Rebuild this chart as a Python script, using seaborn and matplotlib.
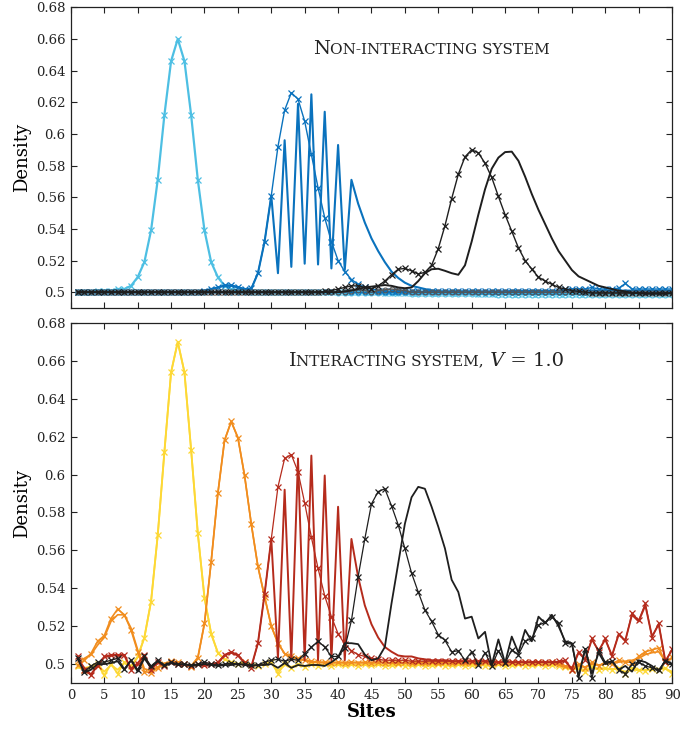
import matplotlib
matplotlib.use("Agg")
import matplotlib.pyplot as plt
import seaborn as sns

# --- Data ---
sites = list(range(1, 91))

# Non-interacting system
cyan_x = [
    0.500, 0.500, 0.500, 0.501, 0.501, 0.501, 0.502, 0.502, 0.504, 0.5095,
    0.519, 0.539, 0.571, 0.612, 0.646, 0.660, 0.646, 0.612, 0.571, 0.539,
    0.519, 0.5095, 0.504, 0.502, 0.501, 0.501, 0.500, 0.500, 0.500, 0.500,
    0.500, 0.500, 0.500, 0.500, 0.500, 0.500, 0.500, 0.500, 0.500, 0.500,
    0.500, 0.500, 0.500, 0.500, 0.500, 0.500, 0.4995, 0.4995, 0.4995, 0.4995,
    0.4995, 0.4995, 0.4995, 0.4995, 0.4995, 0.4995, 0.4995, 0.4995, 0.4995, 0.4995,
    0.499, 0.499, 0.499, 0.499, 0.499, 0.499, 0.499, 0.499, 0.499, 0.499,
    0.499, 0.499, 0.499, 0.499, 0.499, 0.499, 0.499, 0.499, 0.499, 0.499,
    0.499, 0.499, 0.499, 0.499, 0.499, 0.499, 0.499, 0.499, 0.499, 0.499]
cyan_o = [
    0.500, 0.500, 0.500, 0.500, 0.500, 0.500, 0.500, 0.500, 0.500, 0.500,
    0.500, 0.500, 0.500, 0.500, 0.500, 0.500, 0.500, 0.500, 0.500, 0.500,
    0.500, 0.500, 0.500, 0.500, 0.500, 0.500, 0.500, 0.500, 0.500, 0.500,
    0.500, 0.500, 0.500, 0.500, 0.500, 0.500, 0.500, 0.500, 0.500, 0.4995,
    0.4995, 0.4995, 0.4995, 0.4995, 0.4995, 0.4995, 0.4995, 0.4995, 0.4995, 0.4995,
    0.499, 0.499, 0.499, 0.499, 0.499, 0.499, 0.499, 0.499, 0.499, 0.499,
    0.499, 0.499, 0.499, 0.4985, 0.4985, 0.4985, 0.4985, 0.4985, 0.4985, 0.4985,
    0.4985, 0.4985, 0.4985, 0.4985, 0.4985, 0.4985, 0.4985, 0.4985, 0.4985, 0.4985,
    0.4985, 0.4985, 0.4985, 0.4985, 0.4985, 0.4985, 0.4985, 0.4985, 0.4985, 0.4985]
blue_x = [
    0.500, 0.500, 0.500, 0.500, 0.500, 0.500, 0.500, 0.500, 0.500, 0.500,
    0.500, 0.500, 0.500, 0.500, 0.500, 0.500, 0.500, 0.500, 0.500, 0.501,
    0.502, 0.503, 0.5045, 0.5045, 0.5035, 0.502, 0.5025, 0.512, 0.532, 0.561,
    0.592, 0.615, 0.626, 0.622, 0.608, 0.587, 0.566, 0.547, 0.532, 0.520,
    0.513, 0.508, 0.505, 0.503, 0.502, 0.501, 0.5005, 0.5005, 0.5005, 0.5005,
    0.5005, 0.5005, 0.5005, 0.5005, 0.5005, 0.5005, 0.5005, 0.5005, 0.5005, 0.5005,
    0.5005, 0.5005, 0.5005, 0.5005, 0.5005, 0.501, 0.501, 0.501, 0.501, 0.501,
    0.501, 0.501, 0.501, 0.502, 0.502, 0.502, 0.502, 0.503, 0.502, 0.502,
    0.502, 0.5025, 0.5055, 0.502, 0.502, 0.502, 0.502, 0.502, 0.502, 0.502]
blue_line = [
    0.500, 0.500, 0.500, 0.500, 0.500, 0.500, 0.500, 0.500, 0.500, 0.500,
    0.500, 0.500, 0.500, 0.500, 0.500, 0.500, 0.500, 0.500, 0.500, 0.501,
    0.502, 0.503, 0.504, 0.504, 0.503, 0.502, 0.502, 0.512, 0.532, 0.561,
    0.512, 0.596, 0.516, 0.619, 0.518, 0.625, 0.5175, 0.614, 0.515, 0.593,
    0.514, 0.571, 0.556, 0.544, 0.534, 0.526, 0.519, 0.513, 0.509, 0.506,
    0.504, 0.503, 0.502, 0.501, 0.5005, 0.5005, 0.5005, 0.5005, 0.5005, 0.5005,
    0.5005, 0.5005, 0.5005, 0.5005, 0.5005, 0.5005, 0.5005, 0.5005, 0.5005, 0.5005,
    0.5005, 0.5005, 0.5005, 0.501, 0.501, 0.501, 0.501, 0.501, 0.501, 0.501,
    0.501, 0.501, 0.501, 0.501, 0.501, 0.501, 0.501, 0.501, 0.501, 0.501]
blue_o = [
    0.500, 0.500, 0.500, 0.500, 0.500, 0.500, 0.500, 0.500, 0.500, 0.500,
    0.500, 0.500, 0.500, 0.500, 0.500, 0.500, 0.500, 0.500, 0.500, 0.500,
    0.500, 0.500, 0.500, 0.500, 0.500, 0.500, 0.500, 0.500, 0.500, 0.500,
    0.500, 0.500, 0.500, 0.500, 0.500, 0.500, 0.500, 0.500, 0.500, 0.500,
    0.500, 0.500, 0.500, 0.500, 0.500, 0.500, 0.500, 0.500, 0.500, 0.500,
    0.500, 0.500, 0.500, 0.500, 0.500, 0.500, 0.500, 0.500, 0.500, 0.500,
    0.500, 0.500, 0.500, 0.500, 0.500, 0.500, 0.500, 0.500, 0.500, 0.500,
    0.500, 0.500, 0.500, 0.500, 0.500, 0.500, 0.500, 0.500, 0.500, 0.500,
    0.500, 0.500, 0.500, 0.500, 0.500, 0.500, 0.500, 0.500, 0.500, 0.500]
black_x = [
    0.500, 0.500, 0.500, 0.500, 0.500, 0.500, 0.500, 0.500, 0.500, 0.500,
    0.500, 0.500, 0.500, 0.500, 0.500, 0.500, 0.500, 0.500, 0.500, 0.500,
    0.500, 0.500, 0.500, 0.500, 0.500, 0.500, 0.500, 0.500, 0.500, 0.500,
    0.500, 0.500, 0.500, 0.500, 0.500, 0.500, 0.500, 0.5005, 0.501, 0.502,
    0.503, 0.504, 0.504, 0.503, 0.502, 0.504, 0.507, 0.511, 0.5145, 0.515,
    0.5135, 0.5115, 0.5125, 0.517, 0.5275, 0.542, 0.559, 0.5745, 0.5855, 0.590,
    0.588, 0.5815, 0.5725, 0.5605, 0.549, 0.5385, 0.528, 0.520, 0.5145, 0.5095,
    0.507, 0.505, 0.503, 0.502, 0.501, 0.5005, 0.500, 0.4995, 0.4995, 0.4995,
    0.4995, 0.4995, 0.4995, 0.4995, 0.4995, 0.4995, 0.4995, 0.4995, 0.4995, 0.4995]
black_line = [
    0.500, 0.500, 0.500, 0.500, 0.500, 0.500, 0.500, 0.500, 0.500, 0.500,
    0.500, 0.500, 0.500, 0.500, 0.500, 0.500, 0.500, 0.500, 0.500, 0.500,
    0.500, 0.500, 0.500, 0.500, 0.500, 0.500, 0.500, 0.500, 0.500, 0.500,
    0.500, 0.500, 0.500, 0.500, 0.500, 0.500, 0.500, 0.500, 0.500, 0.500,
    0.5005, 0.501, 0.502, 0.503, 0.5035, 0.504, 0.5045, 0.504, 0.503, 0.5025,
    0.503, 0.507, 0.512, 0.5145, 0.5148, 0.5135, 0.512, 0.511, 0.517, 0.532,
    0.549, 0.565, 0.578, 0.585, 0.5885, 0.5888, 0.583, 0.573, 0.562, 0.552,
    0.543, 0.534, 0.526, 0.520, 0.514, 0.510, 0.508, 0.506, 0.504, 0.503,
    0.502, 0.501, 0.5005, 0.4995, 0.4995, 0.499, 0.499, 0.499, 0.499, 0.4995]
black_o = [
    0.500, 0.500, 0.500, 0.500, 0.500, 0.500, 0.500, 0.500, 0.500, 0.500,
    0.500, 0.500, 0.500, 0.500, 0.500, 0.500, 0.500, 0.500, 0.500, 0.500,
    0.500, 0.500, 0.500, 0.500, 0.500, 0.500, 0.500, 0.500, 0.500, 0.500,
    0.500, 0.500, 0.500, 0.500, 0.500, 0.500, 0.500, 0.500, 0.500, 0.500,
    0.500, 0.501, 0.5015, 0.501, 0.500, 0.501, 0.5015, 0.502, 0.5015, 0.501,
    0.500, 0.500, 0.500, 0.500, 0.500, 0.500, 0.500, 0.500, 0.500, 0.500,
    0.500, 0.500, 0.500, 0.500, 0.500, 0.500, 0.500, 0.500, 0.500, 0.500,
    0.500, 0.500, 0.500, 0.500, 0.500, 0.500, 0.500, 0.4995, 0.4995, 0.4995,
    0.4995, 0.4995, 0.4995, 0.4995, 0.4995, 0.4995, 0.4995, 0.4995, 0.4995, 0.4995]

# Interacting system, V = 1.0
yellow_x = [
    0.499, 0.497, 0.499, 0.500, 0.494, 0.500, 0.495, 0.501, 0.499, 0.504,
    0.514, 0.533, 0.568, 0.612, 0.654, 0.670, 0.654, 0.613, 0.569, 0.535,
    0.516, 0.506, 0.5025, 0.501, 0.500, 0.501, 0.4995, 0.499, 0.500, 0.501,
    0.495, 0.500, 0.498, 0.500, 0.4985, 0.500, 0.499, 0.500, 0.499, 0.500,
    0.4995, 0.500, 0.499, 0.500, 0.4995, 0.500, 0.499, 0.4995, 0.500, 0.499,
    0.4995, 0.500, 0.499, 0.4995, 0.500, 0.499, 0.4995, 0.500, 0.499, 0.4995,
    0.500, 0.499, 0.4995, 0.500, 0.499, 0.4995, 0.500, 0.499, 0.4995, 0.500,
    0.499, 0.4995, 0.499, 0.4985, 0.497, 0.498, 0.496, 0.499, 0.497, 0.498,
    0.497, 0.498, 0.495, 0.498, 0.497, 0.4965, 0.4975, 0.497, 0.498, 0.495]
yellow_line = [
    0.498, 0.498, 0.4985, 0.4995, 0.496, 0.4995, 0.497, 0.5005, 0.4985, 0.5035,
    0.514, 0.533, 0.568, 0.612, 0.654, 0.670, 0.654, 0.613, 0.569, 0.535,
    0.516, 0.506, 0.5025, 0.501, 0.4995, 0.5005, 0.499, 0.4995, 0.4995, 0.5005,
    0.4965, 0.4995, 0.4985, 0.4995, 0.499, 0.4995, 0.4995, 0.4995, 0.4995, 0.4995,
    0.499, 0.4995, 0.4995, 0.4995, 0.499, 0.4995, 0.4995, 0.499, 0.4995, 0.4995,
    0.499, 0.4995, 0.4995, 0.499, 0.4995, 0.4995, 0.499, 0.4995, 0.4995, 0.499,
    0.4995, 0.4995, 0.499, 0.4995, 0.4995, 0.499, 0.4995, 0.4995, 0.499, 0.4995,
    0.4995, 0.499, 0.4995, 0.498, 0.4975, 0.4975, 0.497, 0.498, 0.4975, 0.4975,
    0.4975, 0.497, 0.496, 0.4975, 0.4965, 0.497, 0.497, 0.4975, 0.4975, 0.496]
orange_x = [
    0.4995, 0.502, 0.5055, 0.512, 0.515, 0.524, 0.529, 0.526, 0.518, 0.5065,
    0.496, 0.4955, 0.498, 0.500, 0.5015, 0.501, 0.500, 0.4985, 0.503, 0.5215,
    0.554, 0.590, 0.618, 0.628, 0.6195, 0.5995, 0.574, 0.5515, 0.5355, 0.520,
    0.511, 0.5055, 0.504, 0.503, 0.502, 0.5015, 0.501, 0.501, 0.5005, 0.501,
    0.5005, 0.501, 0.5005, 0.501, 0.5005, 0.501, 0.5005, 0.501, 0.5005, 0.501,
    0.5005, 0.501, 0.5005, 0.501, 0.5005, 0.501, 0.5005, 0.501, 0.5005, 0.501,
    0.5005, 0.501, 0.5005, 0.501, 0.5005, 0.501, 0.5005, 0.501, 0.5005, 0.501,
    0.5005, 0.501, 0.500, 0.499, 0.4975, 0.500, 0.498, 0.501, 0.499, 0.501,
    0.500, 0.502, 0.501, 0.501, 0.504, 0.5065, 0.5075, 0.5085, 0.501, 0.5035]
orange_line = [
    0.501, 0.503, 0.505, 0.510, 0.514, 0.5225, 0.526, 0.526, 0.519, 0.5075,
    0.4975, 0.4965, 0.4985, 0.5005, 0.501, 0.5005, 0.4995, 0.499, 0.5035, 0.5215,
    0.554, 0.590, 0.618, 0.628, 0.6195, 0.5995, 0.574, 0.5515, 0.5355, 0.520,
    0.511, 0.5055, 0.5035, 0.5025, 0.502, 0.501, 0.501, 0.5005, 0.501, 0.5005,
    0.501, 0.5005, 0.501, 0.5005, 0.501, 0.5005, 0.501, 0.5005, 0.501, 0.5005,
    0.501, 0.5005, 0.501, 0.5005, 0.501, 0.5005, 0.501, 0.5005, 0.501, 0.5005,
    0.501, 0.5005, 0.501, 0.5005, 0.501, 0.5005, 0.501, 0.5005, 0.501, 0.5005,
    0.501, 0.5005, 0.4995, 0.4985, 0.4985, 0.499, 0.4985, 0.500, 0.4995, 0.500,
    0.5005, 0.501, 0.5015, 0.502, 0.503, 0.505, 0.506, 0.5065, 0.5015, 0.503]
red_x = [
    0.504, 0.497, 0.494, 0.499, 0.504, 0.505, 0.505, 0.505, 0.497, 0.500,
    0.505, 0.497, 0.501, 0.499, 0.501, 0.500, 0.500, 0.499, 0.500, 0.4995,
    0.500, 0.501, 0.505, 0.5065, 0.505, 0.501, 0.498, 0.511, 0.537, 0.566,
    0.5935, 0.6085, 0.6105, 0.6015, 0.585, 0.567, 0.5505, 0.536, 0.525, 0.516,
    0.5105, 0.507, 0.505, 0.504, 0.503, 0.5025, 0.502, 0.502, 0.502, 0.502,
    0.5015, 0.5015, 0.5015, 0.5015, 0.5015, 0.5015, 0.5015, 0.5015, 0.5015, 0.5015,
    0.5015, 0.5015, 0.5015, 0.501, 0.501, 0.501, 0.501, 0.501, 0.501, 0.501,
    0.501, 0.501, 0.5015, 0.502, 0.497, 0.5065, 0.502, 0.5135, 0.5065, 0.5135,
    0.504, 0.516, 0.512, 0.527, 0.523, 0.532, 0.514, 0.5215, 0.501, 0.508]
red_line = [
    0.503, 0.498, 0.4945, 0.4995, 0.5035, 0.5045, 0.5045, 0.5045, 0.4975, 0.5005,
    0.5045, 0.4975, 0.5005, 0.4995, 0.5005, 0.4995, 0.4995, 0.499, 0.4995, 0.499,
    0.4995, 0.5005, 0.5045, 0.506, 0.5045, 0.5005, 0.4985, 0.511, 0.537, 0.566,
    0.503, 0.592, 0.502, 0.6085, 0.502, 0.610, 0.502, 0.5995, 0.502, 0.583,
    0.502, 0.566, 0.546, 0.531, 0.521, 0.514, 0.509, 0.5065, 0.5045, 0.504,
    0.504, 0.503, 0.5025, 0.502, 0.502, 0.502, 0.5015, 0.5015, 0.5015, 0.5015,
    0.5015, 0.5015, 0.501, 0.501, 0.501, 0.501, 0.501, 0.501, 0.501, 0.501,
    0.501, 0.501, 0.501, 0.5015, 0.4975, 0.506, 0.5025, 0.513, 0.507, 0.513,
    0.5045, 0.5155, 0.5125, 0.526, 0.5225, 0.531, 0.5145, 0.521, 0.5015, 0.5075]
blk_x = [
    0.503, 0.496, 0.499, 0.501, 0.501, 0.502, 0.503, 0.4975, 0.502, 0.497,
    0.504, 0.499, 0.502, 0.4995, 0.501, 0.500, 0.500, 0.4995, 0.500, 0.501,
    0.500, 0.4995, 0.500, 0.5005, 0.500, 0.500, 0.4995, 0.4995, 0.501, 0.502,
    0.5025, 0.5015, 0.5025, 0.502, 0.5055, 0.509, 0.512, 0.509, 0.504, 0.504,
    0.5085, 0.523, 0.546, 0.566, 0.5845, 0.591, 0.5925, 0.5835, 0.5735, 0.561,
    0.548, 0.538, 0.5285, 0.5225, 0.5155, 0.5125, 0.5065, 0.507, 0.502, 0.5065,
    0.4995, 0.506, 0.499, 0.507, 0.5005, 0.5075, 0.505, 0.512, 0.5135, 0.5205,
    0.522, 0.525, 0.5215, 0.511, 0.5105, 0.4925, 0.508, 0.4925, 0.5075, 0.501,
    0.5015, 0.497, 0.495, 0.500, 0.501, 0.499, 0.498, 0.497, 0.5015, 0.500]
blk_line = [
    0.503, 0.4955, 0.497, 0.500, 0.500, 0.5005, 0.5015, 0.497, 0.502, 0.496,
    0.503, 0.498, 0.5015, 0.499, 0.5005, 0.4995, 0.500, 0.499, 0.4995, 0.500,
    0.4995, 0.499, 0.4995, 0.4995, 0.500, 0.4995, 0.499, 0.4995, 0.4995, 0.500,
    0.498, 0.5005, 0.498, 0.4995, 0.499, 0.4995, 0.4995, 0.499, 0.501, 0.5035,
    0.511, 0.511, 0.5105, 0.505, 0.502, 0.503, 0.509, 0.532, 0.553, 0.574,
    0.588, 0.5935, 0.5925, 0.583, 0.5725, 0.561, 0.5445, 0.538, 0.524, 0.525,
    0.5135, 0.517, 0.4995, 0.513, 0.5005, 0.5145, 0.506, 0.518, 0.512, 0.525,
    0.5215, 0.526, 0.520, 0.512, 0.511, 0.4935, 0.508, 0.495, 0.506, 0.500,
    0.5015, 0.497, 0.499, 0.496, 0.502, 0.501, 0.499, 0.496, 0.502, 0.500]

C_CYAN = "#4dbfe3"
C_BLUE = "#0a72bd"
C_BLACK = "#1e1e1e"
C_YELLOW = "#fdd835"
C_ORANGE = "#f18d1e"
C_RED = "#b52b1c"

sns.set_theme(style="ticks")
plt.rcParams['font.family'] = ['DejaVu Serif']

fig = plt.figure(figsize=(6.95, 7.29), dpi=100)
ax1 = fig.add_axes([0.102, 0.5775, 0.865, 0.4125])
ax2 = fig.add_axes([0.102, 0.0631, 0.865, 0.4939])


def draw(ax, y, color, marker=None, lw=1.3, ms=4.5, zorder=2):
    kw = dict(x=sites, y=y, ax=ax, color=color, linewidth=lw, estimator=None,
              zorder=zorder, legend=False)
    if marker == 'x':
        kw.update(marker='x', markersize=ms, markeredgewidth=0.9,
                  markeredgecolor=color)
    elif marker == 'o':
        kw.update(marker='o', markersize=ms, markerfacecolor='none',
                  markeredgewidth=0.8, markeredgecolor=color)
    sns.lineplot(**kw)


# --- Top panel ---
draw(ax1, cyan_x, C_CYAN, 'x', lw=1.6)
draw(ax1, cyan_o, C_CYAN, 'o', lw=1.0, ms=3.5)
draw(ax1, blue_o, C_BLUE, 'o', lw=1.0, ms=3.5)
draw(ax1, blue_x, C_BLUE, 'x', lw=1.0)
draw(ax1, blue_line, C_BLUE, None, lw=1.5)
draw(ax1, black_o, '#555555', 'o', lw=1.0, ms=3.5)
draw(ax1, black_x, C_BLACK, 'x', lw=1.0)
draw(ax1, black_line, C_BLACK, None, lw=1.4)

# --- Bottom panel ---
draw(ax2, yellow_line, C_YELLOW, None, lw=1.3)
draw(ax2, yellow_x, C_YELLOW, 'x', lw=1.3)
draw(ax2, orange_line, C_ORANGE, None, lw=1.2)
draw(ax2, orange_x, C_ORANGE, 'x', lw=1.2)
draw(ax2, red_x, C_RED, 'x', lw=0.9)
draw(ax2, red_line, C_RED, None, lw=1.4)
draw(ax2, blk_x, C_BLACK, 'x', lw=0.9)
draw(ax2, blk_line, C_BLACK, None, lw=1.3)

yticks = [0.5, 0.52, 0.54, 0.56, 0.58, 0.6, 0.62, 0.64, 0.66, 0.68]
ylabels = ["0.5", "0.52", "0.54", "0.56", "0.58", "0.6", "0.62", "0.64", "0.66", "0.68"]
for ax in (ax1, ax2):
    ax.set_xlim(0, 90)
    ax.set_ylim(0.49, 0.68)
    ax.set_yticks(yticks)
    ax.set_yticklabels(ylabels)
    ax.set_xticks(range(0, 91, 5))
    ax.tick_params(direction='in', length=4, width=0.8, top=True, right=True,
                   labelsize=9.5, colors='#222222', pad=4)
    for s in ax.spines.values():
        s.set_visible(True)
        s.set_linewidth(0.9)
        s.set_color('#222222')
    ax.set_ylabel('Density', fontsize=13, labelpad=3, color='black')
    ax.set_xlabel('')

ax1.tick_params(labelbottom=False)
ax2.set_xlabel('Sites', fontsize=13, fontweight='bold', labelpad=1, color='black')

# small-caps style annotations: pieces of text placed one after another on one baseline
fig.canvas.draw()
renderer = fig.canvas.get_renderer()


def smallcaps(ax, x, y, pieces):
    inv = ax.transData.inverted()
    cur = x
    for txt, size, extra in pieces:
        t = ax.text(cur, y, txt, fontsize=size, va='baseline', ha='left',
                    color='#222222', **extra)
        bb = t.get_window_extent(renderer)
        cur = inv.transform((bb.x1, bb.y0))[0]


smallcaps(ax1, 36.3, 0.6505, [("N", 14, {}), ("ON-INTERACTING SYSTEM", 11, {})])
smallcaps(ax2, 32.6, 0.6575, [("I", 14, {}), ("NTERACTING SYSTEM,", 11, {}),
                              (" V", 14, {'style': 'italic'}), (" = 1.0", 14, {})])

fig.savefig('out.png', dpi=100)
